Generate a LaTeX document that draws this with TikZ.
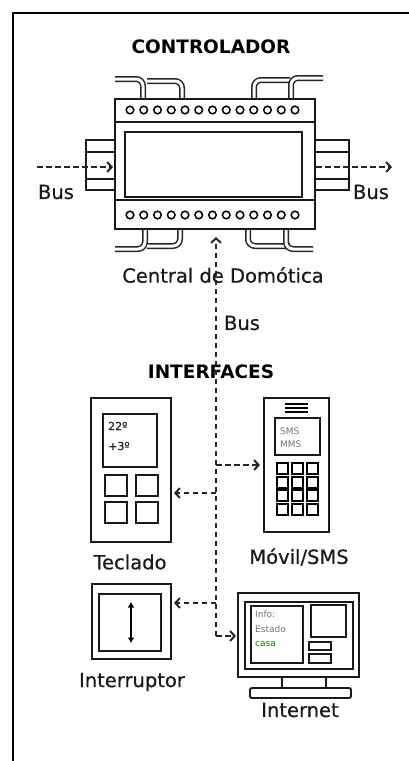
\documentclass[tikz,border=0pt]{standalone}
\usepackage{fontspec}
\setmainfont{DejaVu Sans}
\newfontfamily\labelfont[FakeBold=0.5]{DejaVu Sans}
\usetikzlibrary{arrows.meta}
\begin{document}
\begin{tikzpicture}[x=1pt,y=-1pt,
  outline/.style={draw=black!90, line width=2.1pt, inner sep=0},
  part/.style={draw=black!90, line width=1.9pt},
  cable/.style={draw=black!85, line width=1.5pt, double=white, double distance=3pt, rounded corners=7pt},
  bus/.style={draw=black!85, line width=2pt, dash pattern=on 5.5pt off 3.5pt,
    -{Straight Barb[length=4.5pt,width=10pt]}},
  label/.style={font=\labelfont\fontsize{19.5}{22}\selectfont, text=black!90, inner sep=0},
  title/.style={font=\fontsize{18.5}{22}\selectfont\bfseries, text=black, inner sep=0},
  tiny/.style={inner sep=0, anchor=west},
  key/.style={draw=black!90, line width=1.9pt}
]
\useasboundingbox (0,0) rectangle (409,761);
\fill[white] (0,0) rectangle (409,761);

% outer frame
\draw[line width=2.2pt] (13,761) -- (13,13) -- (409,13);

% ---------- controller ----------
\node[title] (tctrl) at (211,47) {CONTROLADOR};

% cables above
\draw[cable] (115,79) -- (143,79) -- (143,99);
\draw[cable] (147,81) -- (182,81) -- (182,99);
\draw[cable] (290,80) -- (254,80) -- (254,99);
\draw[cable] (323,78) -- (291,78) -- (291,99);
% cables below
\draw[cable] (115,249) -- (145,249) -- (145,229);
\draw[cable] (147,246) -- (180,246) -- (180,229);
\draw[cable] (290,246) -- (248,246) -- (248,229);
\draw[cable] (313,249) -- (286,249) -- (286,229);

% DIN rails
\draw[part, fill=white] (86,140) rectangle (115,190);
\draw[part] (86,152) -- (115,152) (86,179) -- (115,179);
\draw[part, fill=white] (315,140) rectangle (349,190);
\draw[part] (315,152) -- (349,152) (315,179) -- (349,179);

% housing
\node[outline, fill=white, minimum width=200, minimum height=130] (ctrl) at (215,164) {};
\draw[part] (115,122) -- (315,122);
\draw[part] (115,200) -- (315,200);
\draw[part, line width=2.3pt] (125,132) rectangle (302,197);
\foreach \i in {0,...,12} {
  \draw[line width=1.5pt] (130+\i*13.75,110) circle (3.8);
  \draw[line width=1.5pt] (130+\i*13.75,215) circle (3.8);
}

% bus in / out
\coordinate (busin) at (37,167);
\coordinate (busout) at (392,167);
\draw[bus] (busin) -- (113,167);
\draw[bus] (ctrl.east |- busout) -- (busout);
\node[label] (lbusin) at (56,192) {Bus};
\node[label] (lbusout) at (371,192) {Bus};

\node[label] (central) at (223,275) {Central de Domótica};
\node[label] (lbus) at (242,323) {Bus};
\node[title] (tif) at (211,372) {INTERFACES};

% ---------- Teclado ----------
\node[outline, minimum width=80, minimum height=144] (teclado) at (131,470) {};
\draw[part] (103,414) rectangle (157,467);
\node[tiny, font=\labelfont\fontsize{11}{12}\selectfont, text=black!85] (t22) at (108,426) {22º};
\node[tiny, font=\labelfont\fontsize{11}{12}\selectfont, text=black!85] (t3) at (108,446) {+3º};
\foreach \kx in {105,136} \foreach \ky in {475,502}
  \draw[key] (\kx,\ky) rectangle ++(22,21);
\node[label] (ltec) at (130,562) {Teclado};

% ---------- Movil ----------
\node[outline, minimum width=65, minimum height=134] (movil) at (296.5,465) {};
\foreach \sy in {404,408,412} \draw[line width=1.4pt] (285,\sy) -- (308,\sy);
\draw[part] (275,418) rectangle (320,455);
\node[tiny, font=\fontsize{9}{10}\selectfont, text=black!55] (sms) at (280,431) {SMS};
\node[tiny, font=\fontsize{9}{10}\selectfont, text=black!55] (mms) at (280,444) {MMS};
\foreach \kx in {277,292,307} \foreach \ky in {463,477,490,504}
  \draw[line width=1.7pt] (\kx,\ky) rectangle ++(11,11);
\node[label] (lmov) at (299,557) {Móvil/SMS};

% ---------- Interruptor ----------
\node[outline, minimum width=79, minimum height=75] (inter) at (131.5,621.5) {};
\draw[part] (99,594) rectangle (161,651);
\draw[line width=1.9pt, {Latex[length=5.5pt,width=7pt]}-{Latex[length=5.5pt,width=7pt]}] (131,602) -- (131,643);
\node[label] (lint) at (132,682) {Interruptor};

% ---------- Internet ----------
\node[outline, minimum width=121, minimum height=84] (monitor) at (298.5,635) {};
\draw[part] (245,602) rectangle (353,669);
\draw[part] (251,606) rectangle (303,663);
\draw[part] (311,605) rectangle (346,637);
\draw[part] (309,642) rectangle (331,650);
\draw[part] (309,654) rectangle (331,663);
\node[tiny, font=\fontsize{9}{10}\selectfont, text=black!55] (info) at (255,614) {Info:};
\node[tiny, font=\fontsize{9}{10}\selectfont, text=black!55] (estado) at (255,629) {Estado};
\node[tiny, font=\fontsize{9}{10}\selectfont, text=green!50!black] (casa) at (255,644) {casa};
\draw[part] (282,677) -- (282,688) (326,677) -- (326,688);
\draw[part, rounded corners=2pt] (250,688) rectangle (351,698);
\node[label] (lnet) at (300,710) {Internet};

% ---------- bus trunk and branches ----------
\coordinate (jM) at (216,465);
\coordinate (jT) at (216,493);
\coordinate (jI) at (216,603);
\coordinate (jN) at (216,636);
\draw[bus, shorten >=7pt] (jN) -- (jN |- ctrl.south);
\draw[bus] (jM) -- ([xshift=-3pt]jM -| movil.west);
\draw[bus] (jT) -- ([xshift=2pt]jT -| teclado.east);
\draw[bus] (jI) -- ([xshift=2pt]jI -| inter.east);
\draw[bus] (jN) -- ([xshift=-1pt]jN -| monitor.west);
\end{tikzpicture}
\end{document}
